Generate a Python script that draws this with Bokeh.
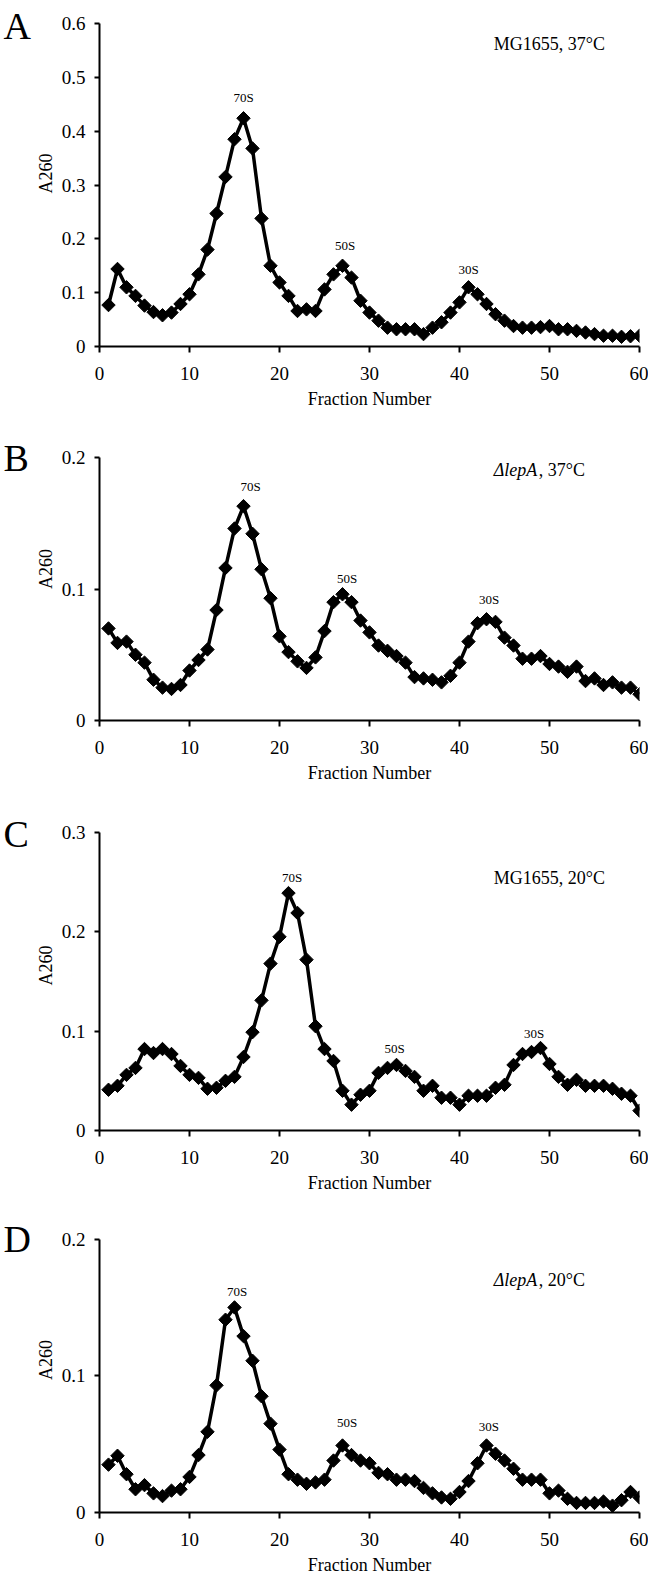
import math
from bokeh.plotting import figure
from bokeh.models import Range1d, FixedTicker, NumeralTickFormatter, Label, ColumnDataSource
from bokeh.layouts import column, row
from bokeh.embed import file_html
from bokeh.resources import INLINE

# ---------------- data ----------------
fractions = list(range(1, 61))
x_ticks = [0, 10, 20, 30, 40, 50, 60]

a260_A = [0.077, 0.144, 0.110, 0.094, 0.076, 0.064, 0.058, 0.063, 0.079, 0.097,
          0.134, 0.180, 0.247, 0.315, 0.385, 0.424, 0.368, 0.238, 0.150, 0.119,
          0.094, 0.066, 0.069, 0.066, 0.106, 0.134, 0.150, 0.128, 0.085, 0.063,
          0.048, 0.035, 0.032, 0.032, 0.032, 0.023, 0.035, 0.045, 0.063, 0.082,
          0.110, 0.097, 0.079, 0.060, 0.048, 0.038, 0.035, 0.035, 0.036, 0.038,
          0.032, 0.032, 0.029, 0.026, 0.023, 0.020, 0.020, 0.018, 0.019, 0.020]

a260_B = [0.070, 0.059, 0.060, 0.050, 0.044, 0.031, 0.025, 0.024, 0.027, 0.038,
          0.046, 0.054, 0.084, 0.116, 0.146, 0.163, 0.142, 0.115, 0.093, 0.064,
          0.052, 0.045, 0.040, 0.048, 0.068, 0.090, 0.096, 0.090, 0.076, 0.067,
          0.057, 0.053, 0.049, 0.044, 0.033, 0.032, 0.031, 0.029, 0.034, 0.044,
          0.060, 0.074, 0.077, 0.075, 0.063, 0.057, 0.047, 0.047, 0.049, 0.043,
          0.041, 0.037, 0.041, 0.030, 0.032, 0.027, 0.029, 0.025, 0.025, 0.020]

a260_C = [0.041, 0.045, 0.056, 0.063, 0.082, 0.078, 0.082, 0.077, 0.065, 0.056,
          0.053, 0.042, 0.043, 0.050, 0.054, 0.074, 0.099, 0.131, 0.168, 0.195,
          0.239, 0.219, 0.172, 0.105, 0.082, 0.070, 0.040, 0.026, 0.036, 0.040,
          0.058, 0.063, 0.066, 0.060, 0.054, 0.040, 0.045, 0.033, 0.033, 0.026,
          0.035, 0.035, 0.035, 0.043, 0.046, 0.066, 0.077, 0.079, 0.083, 0.067,
          0.054, 0.046, 0.051, 0.045, 0.045, 0.045, 0.042, 0.037, 0.035, 0.020]

a260_D = [0.035, 0.0415, 0.028, 0.017, 0.020, 0.014, 0.012, 0.016, 0.017, 0.026,
          0.042, 0.059, 0.093, 0.141, 0.150, 0.129, 0.111, 0.085, 0.065, 0.046,
          0.028, 0.024, 0.021, 0.022, 0.024, 0.038, 0.049, 0.042, 0.038, 0.036,
          0.029, 0.028, 0.024, 0.024, 0.023, 0.018, 0.014, 0.011, 0.010, 0.015,
          0.023, 0.036, 0.049, 0.043, 0.038, 0.032, 0.024, 0.024, 0.024, 0.014,
          0.016, 0.010, 0.007, 0.007, 0.007, 0.008, 0.005, 0.009, 0.015, 0.011]

y_ticks_A = [0, 0.1, 0.2, 0.3, 0.4, 0.5, 0.6]
y_ticks_B = [0, 0.1, 0.2]
y_ticks_C = [0, 0.1, 0.2, 0.3]
y_ticks_D = [0, 0.1, 0.2]

panel_letters = ["A", "B", "C", "D"]
peak_names = ["70S", "50S", "30S"]

FONT = "Liberation Serif"
LETTER_W = 32
BORDER_L = 59
MAIN_W = 648 - LETTER_W
CAP_MID = 0.34  # vertical centre of capitals/digits above the baseline, in em


def make_panel(letter, values, yticks, height, top, bottom, cond_italic, cond_rest,
               cond_y, peak_pos, letter_cy):
    ymax = yticks[-1]
    data_h = height - top - bottom      # pixels between 0 and ymax
    full_h = height - bottom            # frame height (frame starts at figure top)
    ppu = data_h / ymax                 # pixels per data unit
    yend = ymax * full_h / data_h

    def base(yc, size):
        return yc - CAP_MID * size / ppu

    p = figure(width=MAIN_W, height=height, output_backend="svg", toolbar_location=None,
               x_range=Range1d(0, 60), y_range=Range1d(0, yend),
               min_border_left=BORDER_L, min_border_right=9,
               min_border_top=0, min_border_bottom=bottom)
    p.outline_line_color = None
    p.background_fill_color = "white"
    p.border_fill_color = "white"
    p.grid.visible = False

    src = ColumnDataSource(dict(x=fractions, y=values))
    p.line("x", "y", source=src, line_color="black", line_width=3.5)
    p.scatter("x", "y", source=src, marker="square", size=9.5, angle=math.pi / 4,
              fill_color="black", line_color="black", line_width=1)

    xa = p.xaxis[0]
    xa.ticker = FixedTicker(ticks=x_ticks)
    xa.axis_line_width = 2
    xa.axis_line_color = "black"
    xa.major_tick_line_width = 2
    xa.major_tick_line_color = "black"
    xa.major_tick_out = 6
    xa.major_tick_in = 0
    xa.minor_tick_out = 0
    xa.minor_tick_in = 0
    xa.major_label_text_font = FONT
    xa.major_label_text_font_size = "19px"
    xa.major_label_text_color = "black"
    xa.major_label_standoff = 14
    xa.axis_label = "Fraction Number"
    xa.axis_label_text_font = FONT
    xa.axis_label_text_font_style = "normal"
    xa.axis_label_text_font_size = "18px"
    xa.axis_label_text_color = "black"
    xa.axis_label_standoff = 6

    ya = p.yaxis[0]
    ya.ticker = FixedTicker(ticks=yticks)
    ya.bounds = (0, ymax)
    ya.formatter = NumeralTickFormatter(format="0.[0]")
    ya.axis_line_width = 2
    ya.axis_line_color = "black"
    ya.major_tick_line_width = 2
    ya.major_tick_line_color = "black"
    ya.major_tick_out = 5
    ya.major_tick_in = 0
    ya.minor_tick_out = 0
    ya.minor_tick_in = 0
    ya.major_label_text_font = FONT
    ya.major_label_text_font_size = "19px"
    ya.major_label_text_color = "black"
    ya.major_label_standoff = 9
    ya.axis_label = "A260"
    ya.axis_label_text_font = FONT
    ya.axis_label_text_font_style = "normal"
    ya.axis_label_text_font_size = "18px"
    ya.axis_label_text_color = "black"
    ya.axis_label_standoff = 3

    cx = 43.8
    cy = base(cond_y, 18)
    if cond_italic:
        p.add_layout(Label(x=cx, y=cy, text=cond_italic, text_font=FONT,
                           text_font_style="italic", text_font_size="18px",
                           text_color="black", text_align="left", text_baseline="alphabetic"))
        p.add_layout(Label(x=cx, y=cy, x_offset=45, text=cond_rest, text_font=FONT,
                           text_font_size="18px", text_color="black",
                           text_align="left", text_baseline="alphabetic"))
    else:
        p.add_layout(Label(x=cx, y=cy, text=cond_rest, text_font=FONT,
                           text_font_size="18px", text_color="black",
                           text_align="left", text_baseline="alphabetic"))

    for name, (px, py) in zip(peak_names, peak_pos):
        p.add_layout(Label(x=px, y=base(py, 13), text=name, text_font=FONT,
                           text_font_size="13px", text_color="black",
                           text_align="center", text_baseline="alphabetic"))

    # panel letter in a narrow companion figure (pixel coordinates, y upward)
    lf = figure(width=LETTER_W, height=height, output_backend="svg", toolbar_location=None,
                x_range=Range1d(0, LETTER_W), y_range=Range1d(0, full_h),
                x_axis_type=None, y_axis_type=None,
                min_border_left=0, min_border_right=0, min_border_top=0,
                min_border_bottom=bottom)
    lf.outline_line_color = None
    lf.grid.visible = False
    lf.background_fill_color = "white"
    lf.border_fill_color = "white"
    lf.add_layout(Label(x=3, y=full_h - letter_cy, text=letter,
                        text_font=FONT, text_font_size="38px", text_color="black",
                        text_align="left", text_baseline="alphabetic"))
    return row(lf, p, spacing=0)


pA = make_panel(panel_letters[0], a260_A, y_ticks_A, 417, 23, 71, None, "MG1655, 37°C", 0.574,
                [(16, 0.47), (27.3, 0.195), (41, 0.152)], 25)
pB = make_panel(panel_letters[1], a260_B, y_ticks_B, 383, 40, 80, "\u0394lepA", ", 37°C", 0.195,
                [(16.8, 0.181), (27.5, 0.111), (43.3, 0.0953)], 40)
pC = make_panel(panel_letters[2], a260_C, y_ticks_C, 407, 32, 77, None, "MG1655, 20°C", 0.26,
                [(21.4, 0.259), (32.8, 0.0874), (48.3, 0.1025)], 33)
pD = make_panel(panel_letters[3], a260_D, y_ticks_D, 370, 33, 51, "\u0394lepA", ", 20°C", 0.174,
                [(15.3, 0.165), (27.5, 0.0687), (43.25, 0.066)], 33)

layout = column(pA, pB, pC, pD, spacing=0)

with open("out.html", "w") as f:
    f.write(file_html(layout, INLINE))
